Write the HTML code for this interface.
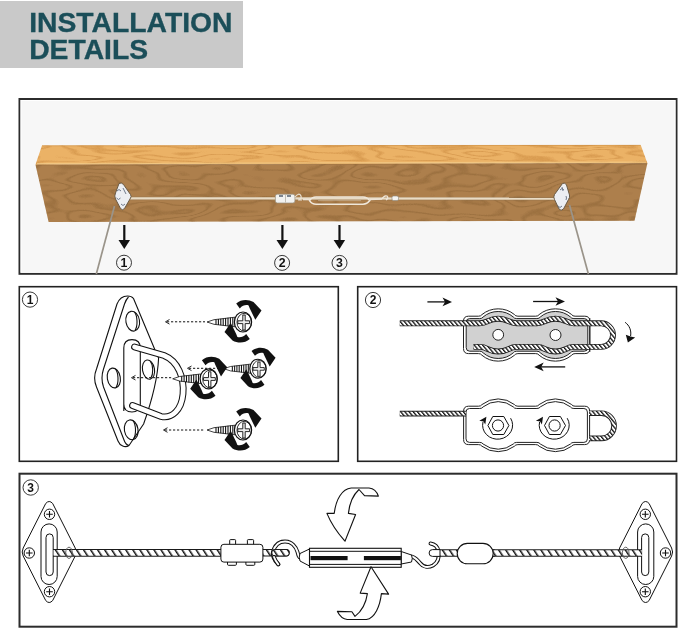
<!DOCTYPE html>
<html><head><meta charset="utf-8">
<style>
html,body{margin:0;padding:0;background:#fff;}
body{width:679px;height:629px;position:relative;overflow:hidden;font-family:"Liberation Sans",sans-serif;}
.hdr{position:absolute;left:0;top:1px;width:243px;height:67px;background:#c9c9c9;will-change:transform;}
.hdr div{position:absolute;left:29.2px;top:7.9px;font-weight:bold;font-size:28.3px;line-height:27.6px;color:#1b4e59;letter-spacing:0px;-webkit-text-stroke:0.35px #1b4e59;}
svg{position:absolute;left:0;top:0;will-change:transform;}
</style></head><body>
<div class="hdr"><div>INSTALLATION<br>DETAILS</div></div>
<svg width="679" height="629" viewBox="0 0 679 629" font-family="Liberation Sans, sans-serif">
<defs>
  <linearGradient id="topg" x1="0" y1="0" x2="0" y2="1">
    <stop offset="0" stop-color="#d99c4f"/>
    <stop offset="0.5" stop-color="#e9ae5e"/>
    <stop offset="1" stop-color="#dda255"/>
  </linearGradient>
  <linearGradient id="frontg" x1="0" y1="0" x2="0" y2="1">
    <stop offset="0" stop-color="#a97942"/>
    <stop offset="0.45" stop-color="#b3834b"/>
    <stop offset="1" stop-color="#b08048"/>
  </linearGradient>
  <pattern id="hatch" width="3.2" height="3.2" patternUnits="userSpaceOnUse" patternTransform="rotate(-40)">
    <rect width="3.2" height="3.2" fill="#fff"/>
    <rect width="1.3" height="3.2" fill="#111"/>
  </pattern>
  <pattern id="hatch3" width="5.9" height="6" patternUnits="userSpaceOnUse" patternTransform="rotate(-33)">
    <rect width="5.9" height="6" fill="#fff"/>
    <rect width="1.5" height="6" fill="#111"/>
  </pattern>
<filter id="rings" x="0" y="0" width="679" height="629" filterUnits="userSpaceOnUse" color-interpolation-filters="sRGB">
  <feTurbulence type="fractalNoise" baseFrequency="0.016 0.055" numOctaves="2" seed="11" result="n"/>
  <feComponentTransfer in="n" result="r">
    <feFuncR type="table" tableValues="1 0.2 1 1 0.2 1 1 0.2 1 1 0.2 1 1 0.2 1 1 0.2 1"/>
  </feComponentTransfer>
  <feColorMatrix in="r" type="matrix" values="0 0 0 0 0.52  0 0 0 0 0.37  0 0 0 0 0.19  -0.7 0 0 0 0.55" result="lines"/>
  <feComposite in="lines" in2="SourceGraphic" operator="in" result="lc"/>
  <feMerge><feMergeNode in="SourceGraphic"/><feMergeNode in="lc"/></feMerge>
</filter>
<filter id="rings2" x="0" y="0" width="679" height="629" filterUnits="userSpaceOnUse" color-interpolation-filters="sRGB">
  <feTurbulence type="fractalNoise" baseFrequency="0.012 0.08" numOctaves="2" seed="5" result="n"/>
  <feComponentTransfer in="n" result="r">
    <feFuncR type="table" tableValues="1 0.2 1 1 0.2 1 1 0.2 1 1 0.2 1 1 0.2 1 1 0.2 1"/>
  </feComponentTransfer>
  <feColorMatrix in="r" type="matrix" values="0 0 0 0 0.76  0 0 0 0 0.50  0 0 0 0 0.21  -0.75 0 0 0 0.58" result="lines"/>
  <feComposite in="lines" in2="SourceGraphic" operator="in" result="lc"/>
  <feMerge><feMergeNode in="SourceGraphic"/><feMergeNode in="lc"/></feMerge>
</filter>
</defs>

<!-- ================= TOP PANEL ================= -->
<rect x="19.5" y="99" width="657" height="174.8" fill="#f7f7f7" stroke="#2c2c2c" stroke-width="2"/>
<rect x="21" y="100.5" width="654" height="171.8" fill="none" stroke="#fff" stroke-width="1"/>
<!-- ropes down -->
<!-- beam -->
<g filter="url(#rings2)">
<polygon points="42,145.5 640.7,145 647.4,163.2 35.5,164.8" fill="#ebb266"/>
</g>
<g filter="url(#rings)">
<polygon points="35.5,164.8 647.4,163.2 634.5,220.8 48.6,222" fill="#ad7f4c"/>
</g>
<line x1="37" y1="163.6" x2="646" y2="162.2" stroke="#f3cd8c" stroke-width="1.3" opacity="0.75"/>
<line x1="36" y1="165" x2="647" y2="163.4" stroke="#8e6333" stroke-width="0.8" opacity="0.45"/>
<line x1="42" y1="145.8" x2="640.5" y2="145.3" stroke="#c98a3e" stroke-width="0.9" opacity="0.6"/>
<!-- wire on beam -->
<line x1="127" y1="198.4" x2="556" y2="198.7" stroke="#8a7050" stroke-width="3.6" opacity="0.45"/>
<line x1="127" y1="198.3" x2="556" y2="198.6" stroke="#e9dcc6" stroke-width="2.3"/>
<!-- diagonal ropes -->
<line x1="114.5" y1="206" x2="96.3" y2="274" stroke="#9a948a" stroke-width="1.7"/>
<line x1="569.5" y1="205" x2="588.4" y2="274" stroke="#9a948a" stroke-width="1.7"/>
<!-- plates -->
<g stroke-linejoin="round">
  <path d="M119,183.5 Q121.5,182 123.5,184.5 L130.5,194.5 Q132,196.5 130,199 L124.5,208.5 Q122.5,211 120.5,208.5 L115.5,199 Q114,196 115.5,193 Z" fill="#eceef2" stroke="#6a5a45" stroke-width="1"/>
  <path d="M117,191 q2,-3 4,0 M116.5,198 q2,3 4,0 M121,204 q2,3 4,0 M123,188 l3,6" fill="none" stroke="#6f7a8c" stroke-width="1"/>
  <path d="M562.5,183.5 Q565,182 566.5,185 L569.5,195 Q570,197.5 568.5,199.5 L563.5,209 Q561,211.5 559,209 L554.5,199.5 Q553,197 554.5,194.5 Z" fill="#eceef2" stroke="#6a5a45" stroke-width="1"/>
  <path d="M560,190 q2,-3 4,0 M562,187 l1,4 M558,206 q2,3 4,0 M566,196 q1,2 0,4" fill="none" stroke="#6f7a8c" stroke-width="1"/>
</g>
<!-- clamp, turnbuckle, hook on beam -->
<g>
  <rect x="275.4" y="194.2" width="19.5" height="8.8" rx="2" fill="#f2f2f0" stroke="#9a9180" stroke-width="0.7"/>
  <path d="M279,196 h4 M287,196 h4" stroke="#55606e" stroke-width="1.6"/>
  <line x1="285.5" y1="194.5" x2="285.5" y2="202.5" stroke="#b5b0a6" stroke-width="0.8"/>
  <path d="M295,197 q4,-5 6,-1 q1,3 -3,4 M298,200 l4,0" fill="none" stroke="#e9e1d3" stroke-width="1.2"/>
  <path d="M303,199.5 L310,199.5" stroke="#ece3d6" stroke-width="1.6"/>
  <path d="M309.5,200.6 Q312,197 316,197 L363,197 Q367,197 369.8,200.6 Q367,204.2 363,204.2 L316,204.2 Q312,204.2 309.5,200.6 Z" fill="none" stroke="#efe7da" stroke-width="1.6"/>
  <line x1="318" y1="200.6" x2="361" y2="200.6" stroke="#d2c2a8" stroke-width="0.8" opacity="0.7"/>
  <path d="M370,199.5 L382,199" stroke="#ece3d6" stroke-width="1.4"/>
  <path d="M382,199 q2,-4 5,-3 q2,2 -1,4" fill="none" stroke="#efe7da" stroke-width="1.2"/>
  <rect x="392" y="196" width="6.5" height="4.6" rx="1.5" fill="#f4f4f2" stroke="#8a8478" stroke-width="0.6"/>
</g>
<!-- arrows & numbers -->
<g fill="#111">
  <rect x="123.2" y="225" width="2.2" height="16"/>
  <polygon points="118.5,240 130,240 124.3,249"/>
  <rect x="281.3" y="225" width="2.2" height="16"/>
  <polygon points="276.5,240 288,240 282.4,249"/>
  <rect x="338.4" y="225" width="2.2" height="16"/>
  <polygon points="333.6,240 345.1,240 339.5,249"/>
</g>
<g fill="none" stroke="#222" stroke-width="0.9">
  <circle cx="124" cy="262.7" r="7.5"/>
  <circle cx="282.1" cy="262.9" r="7.5"/>
  <circle cx="339.5" cy="262.9" r="7.5"/>
</g>
<g font-weight="bold" font-size="12.3" fill="#111" text-anchor="middle">
  <text x="124" y="267.3">1</text>
  <text x="282.1" y="267.4">2</text>
  <text x="339.5" y="267.4">3</text>
</g>

<!-- ================= PANEL 1 ================= -->
<rect x="19.3" y="286.7" width="319" height="174.6" fill="#fff" stroke="#222" stroke-width="1.6"/>
<circle cx="30" cy="299.6" r="7.6" fill="none" stroke="#222" stroke-width="0.9"/>
<text x="30" y="304" font-weight="bold" font-size="12" fill="#111" text-anchor="middle">1</text>
<!-- panel1 drawing -->
<g fill="none" stroke="#111" stroke-width="1.1" stroke-linejoin="round">
  <!-- plate silhouette -->
  <path d="M127.5,296 C123,296 119,299 117,304 L96.5,369 C94,375 94,381 96.5,387 L118,441 C120,446 125,448 129,445.5 L143.6,424 C155,392 158,372 158.6,358 L155,350 L133.5,298.5 C132,296.5 130,296 127.5,296 Z" fill="#fff"/>
  <!-- inner front-face edge -->
  <path d="M128.5,297 C126.5,299 125.5,301 124.5,304 L103.5,369 C101.5,375 101.5,381 103.5,387 L124,440 C125,443 127,445 129,445.5"/>
  <!-- holes -->
  <ellipse cx="132.7" cy="321.2" rx="6.8" ry="10" transform="rotate(-10 132.7 321.2)"/>
  <path d="M134.5,312 C137.5,316 138,326 135,330.5"/>
  <ellipse cx="113.8" cy="378" rx="6.5" ry="10" transform="rotate(-10 113.8 378)"/>
  <path d="M115.5,369 C118.5,373 119,383 116,387.5"/>
  <ellipse cx="131.2" cy="429.8" rx="6.8" ry="10" transform="rotate(-10 131.2 429.8)"/>
  <path d="M133,420.5 C136,424.5 136.5,434.5 133.5,439"/>
  <!-- D-ring base -->
  <path d="M123.8,411 L123.8,348 C123.8,342 127.5,339.6 132,339.6 C136.5,339.6 140.3,342 140.3,348 L140.3,404 C140.3,409.5 136.5,412 132,412 C127.5,412 123.8,409.5 123.8,404" fill="#fff"/>
  <!-- middle hole -->
  <ellipse cx="148.5" cy="369.6" rx="6" ry="9.7" transform="rotate(-10 148.5 369.6)" fill="#fff"/>
  <path d="M150.2,361 C153.2,365 153.7,374 150.7,378.5"/>
  <!-- plate edge inside D -->
  
</g>
<!-- D ring tube -->
<path d="M134.5,347 L164,355.5 C178,361 184.5,378 183,394 C181.5,410 172,419 161,416.5 L132.5,405.5" fill="none" stroke="#111" stroke-width="6.8" stroke-linecap="round"/>
<path d="M134.5,347 L164,355.5 C178,361 184.5,378 183,394 C181.5,410 172,419 161,416.5 L132.5,405.5" fill="none" stroke="#fff" stroke-width="4.7" stroke-linecap="round"/>
<defs>
<g id="screw">
  <polygon points="-36,0 -29,-2.3 -8,-4.8 -8,4.8 -29,2.3" fill="#fff" stroke="#111" stroke-width="0.8"/>
  <g stroke="#111" stroke-width="1.1">
    <line x1="-27" y1="-2.6" x2="-27" y2="2.6"/><line x1="-24.6" y1="-3" x2="-24.6" y2="3"/>
    <line x1="-22.2" y1="-3.3" x2="-22.2" y2="3.3"/><line x1="-19.8" y1="-3.6" x2="-19.8" y2="3.6"/>
    <line x1="-17.4" y1="-3.9" x2="-17.4" y2="3.9"/><line x1="-15" y1="-4.2" x2="-15" y2="4.2"/>
    <line x1="-12.6" y1="-4.4" x2="-12.6" y2="4.4"/><line x1="-10.2" y1="-4.6" x2="-10.2" y2="4.6"/>
  </g>
  <path id="rarr" d="M-6.8,-18.6 C-2,-22.8 5,-23.2 10.5,-20 L18.5,-11.5 L12.3,-2.3 L6.8,-13.6 L5.6,-16.6 C3,-17.3 -0.5,-16.8 -3.2,-13.6 Z" fill="#111"/>
  <use href="#rarr" transform="rotate(180 0 -0.8)"/>
  <ellipse cx="0" cy="0" rx="8.6" ry="10" fill="#fff" stroke="#111" stroke-width="1.2"/>
  <ellipse cx="1.2" cy="0.2" rx="7.2" ry="8.8" fill="none" stroke="#111" stroke-width="0.9"/>
  <path d="M-0.2,-7 L2.2,-7 L2.2,-1.2 L6.6,-1.2 L6.6,1.6 L2.2,1.6 L2.2,8 L-0.2,8 L-0.2,1.6 L-5.2,1.6 L-5.2,-1.2 L-0.2,-1.2 Z" fill="#eee" stroke="#111" stroke-width="0.9"/>
</g>
</defs>
<g fill="none" stroke="#111" stroke-width="1" stroke-dasharray="2.2 1.8">
  <line x1="167" y1="321.8" x2="205" y2="321.8"/>
  <line x1="133" y1="377.7" x2="172" y2="377.7"/>
  <line x1="189" y1="368.3" x2="224" y2="368.3"/>
  <line x1="165" y1="430" x2="205" y2="430"/>
</g>
<g fill="none" stroke="#111" stroke-width="0.9">
  <path d="M169.5,319.5 L165.5,321.8 L169.5,324.1"/>
  <path d="M135.5,375.4 L131.5,377.7 L135.5,380"/>
  <path d="M191.5,366 L187.5,368.3 L191.5,370.6"/>
  <path d="M167.5,427.7 L163.5,430 L167.5,432.3"/>
</g>
<use href="#screw" transform="translate(258,368.7) scale(0.95)"/>
<use href="#screw" transform="translate(208.7,378.8)"/>
<use href="#screw" transform="translate(243,322)"/>
<use href="#screw" transform="translate(243,430)"/>


<!-- ================= PANEL 2 ================= -->
<rect x="357.7" y="286.7" width="318.8" height="174.6" fill="#fff" stroke="#222" stroke-width="1.6"/>
<circle cx="373" cy="300" r="7.6" fill="none" stroke="#222" stroke-width="0.9"/>
<text x="373" y="304.4" font-weight="bold" font-size="12" fill="#111" text-anchor="middle">2</text>
<!-- panel 2 drawing -->
<g fill="#111">
  <line x1="427.4" y1="301.9" x2="445" y2="301.9" stroke="#111" stroke-width="1.3"/>
  <path d="M452,301.9 L442.5,297.6 L445,301.9 L442.5,306.2 Z"/>
  <line x1="533.1" y1="301.5" x2="558" y2="301.5" stroke="#111" stroke-width="1.3"/>
  <path d="M565,301.5 L555.5,297.2 L558,301.5 L555.5,305.8 Z"/>
  <line x1="565.2" y1="366.9" x2="541" y2="366.9" stroke="#111" stroke-width="1.3"/>
  <path d="M534.2,366.9 L543.7,362.6 L541.2,366.9 L543.7,371.2 Z"/>
  <path d="M625.1,322.3 C629.5,325.5 631.5,330.5 630.6,336" fill="none" stroke="#111" stroke-width="1"/>
  <path d="M627.9,342.5 L625.8,334.8 L630.6,336.6 L635.2,337.5 Z"/>
</g>
<path d="M463.5,321.2 Q463.5,316.2 468.5,316.2 L478.50,316.2 Q481.00,316.2 481.90,314.60 A25.92,25.92 0 0 1 514.50,314.60 Q515.40,316.2 517.90,316.2 L535.70,316.2 Q538.20,316.2 539.10,314.60 A25.92,25.92 0 0 1 571.70,314.60 Q572.60,316.2 575.10,316.2 L584.8,316.2 Q589.8,316.2 589.8,321.2 L589.8,348.6 Q589.8,353.6 584.8,353.6 L575.10,353.6 Q572.60,353.6 571.70,355.20 A25.38,25.38 0 0 1 539.10,355.20 Q538.20,353.6 535.70,353.6 L517.90,353.6 Q515.40,353.6 514.50,355.20 A25.38,25.38 0 0 1 481.90,355.20 Q481.00,353.6 478.50,353.6 L468.5,353.6 Q463.5,353.6 463.5,348.6 Z" fill="#fff" stroke="#222" stroke-width="1"/>
<path d="M466.2,322.1 Q466.2,318.6 469.7,318.6 L479.70,318.6 Q482.20,318.6 483.10,317.00 A23.43,23.43 0 0 1 513.30,317.00 Q514.20,318.6 516.70,318.6 L536.90,318.6 Q539.40,318.6 540.30,317.00 A23.43,23.43 0 0 1 570.50,317.00 Q571.40,318.6 573.90,318.6 L584.3,318.6 Q587.8,318.6 587.8,322.1 L587.8,347.7 Q587.8,351.2 584.3,351.2 L573.90,351.2 Q571.40,351.2 570.50,352.80 A22.94,22.94 0 0 1 540.30,352.80 Q539.40,351.2 536.90,351.2 L516.70,351.2 Q514.20,351.2 513.30,352.80 A22.94,22.94 0 0 1 483.10,352.80 Q482.20,351.2 479.70,351.2 L469.7,351.2 Q466.2,351.2 466.2,347.7 Z" fill="#d1d1d1" stroke="#222" stroke-width="1"/>
<line x1="589.8" y1="318" x2="589.8" y2="352" stroke="#222" stroke-width="1"/>
<circle cx="498.2" cy="334.8" r="5.4" fill="#fff" stroke="#222" stroke-width="1"/>
<circle cx="555.5" cy="335" r="5.5" fill="#fff" stroke="#222" stroke-width="1"/>
<path d="M399.8,323.3 L479.7,323.3 C488.025,323.3 488.025,318.7 498.2,318.7 C508.375,318.7 508.375,323.3 516.7,323.3 L536.9,323.3 C545.225,323.3 545.225,318.7 555.4,318.7 C565.5749999999999,318.7 565.5749999999999,323.3 573.9,323.3 L601.2,323.3 A11.8,11.8 0 0 1 601.2,346.9 L573.9,346.9 C565.5749999999999,346.9 565.5749999999999,351.5 555.4,351.5 C545.225,351.5 545.225,346.9 536.9,346.9 L516.7,346.9 C508.375,346.9 508.375,351.5 498.2,351.5 C488.025,351.5 488.025,346.9 479.7,346.9 L473.5,346.9" fill="none" stroke="#222" stroke-width="5.9" stroke-linejoin="round"/>
<path d="M399.8,323.3 L479.7,323.3 C488.025,323.3 488.025,318.7 498.2,318.7 C508.375,318.7 508.375,323.3 516.7,323.3 L536.9,323.3 C545.225,323.3 545.225,318.7 555.4,318.7 C565.5749999999999,318.7 565.5749999999999,323.3 573.9,323.3 L601.2,323.3 A11.8,11.8 0 0 1 601.2,346.9 L573.9,346.9 C565.5749999999999,346.9 565.5749999999999,351.5 555.4,351.5 C545.225,351.5 545.225,346.9 536.9,346.9 L516.7,346.9 C508.375,346.9 508.375,351.5 498.2,351.5 C488.025,351.5 488.025,346.9 479.7,346.9 L473.5,346.9" fill="none" stroke="url(#hatch)" stroke-width="4.2" stroke-linejoin="round"/>

<path d="M463.6,411.2 Q463.6,406.2 468.6,406.2 L478.50,406.2 Q481.00,406.2 481.90,404.60 A26.20,26.20 0 0 1 514.50,404.60 Q515.40,406.2 517.90,406.2 L535.70,406.2 Q538.20,406.2 539.10,404.60 A26.20,26.20 0 0 1 571.70,404.60 Q572.60,406.2 575.10,406.2 L584.6,406.2 Q589.6,406.2 589.6,411.2 L589.6,439.6 Q589.6,444.6 584.6,444.6 L575.10,444.6 Q572.60,444.6 571.70,446.20 A27.13,27.13 0 0 1 539.10,446.20 Q538.20,444.6 535.70,444.6 L517.90,444.6 Q515.40,444.6 514.50,446.20 A27.13,27.13 0 0 1 481.90,446.20 Q481.00,444.6 478.50,444.6 L468.6,444.6 Q463.6,444.6 463.6,439.6 Z" fill="#fff" stroke="#222" stroke-width="1"/>
<path d="M466.0,412.0 Q466.0,408.5 469.5,408.5 L479.70,408.5 Q482.20,408.5 483.10,406.90 A24.24,24.24 0 0 1 513.30,406.90 Q514.20,408.5 516.70,408.5 L536.90,408.5 Q539.40,408.5 540.30,406.90 A24.24,24.24 0 0 1 570.50,406.90 Q571.40,408.5 573.90,408.5 L583.9,408.5 Q587.4,408.5 587.4,412.0 L587.4,438.9 Q587.4,442.4 583.9,442.4 L573.90,442.4 Q571.40,442.4 570.50,444.00 A24.53,24.53 0 0 1 540.30,444.00 Q539.40,442.4 536.90,442.4 L516.70,442.4 Q514.20,442.4 513.30,444.00 A24.53,24.53 0 0 1 483.10,444.00 Q482.20,442.4 479.70,442.4 L469.5,442.4 Q466.0,442.4 466.0,438.9 Z" fill="#fff" stroke="#222" stroke-width="1"/>
<path d="M399.8,413.6 L466,413.6" fill="none" stroke="#222" stroke-width="5.6"/>
<path d="M399.8,413.6 L466,413.6" fill="none" stroke="url(#hatch)" stroke-width="3.8"/>
<path d="M589,413.2 L601.5,413.2 A12.6,12.6 0 0 1 601.5,438.4 L589,438.4" fill="none" stroke="#222" stroke-width="5.6"/>
<path d="M589,413.2 L601.5,413.2 A12.6,12.6 0 0 1 601.5,438.4 L589,438.4" fill="none" stroke="url(#hatch)" stroke-width="3.8"/>
<g fill="none" stroke="#111" stroke-width="1">
  <polygon points="487.9,425.5 492.8,416.5 503.8,416.5 508.9,425.5 503.8,434.5 492.8,434.5"/>
  <circle cx="498" cy="425.5" r="5.6"/>
  <path d="M510.6,418.2 A15,14 0 1 1 483,422"/>
  <polygon points="544.5,425.5 549.4,416.5 560.4,416.5 565.5,425.5 560.4,434.5 549.4,434.5"/>
  <circle cx="554.6" cy="425.5" r="5.6"/>
  <path d="M567.2,418.2 A15,14 0 1 1 539.6,422"/>
</g>
<g fill="#111">
  <path d="M479.3,420.8 L486.4,416.8 L485.3,424.5 L483.5,421.5 Z"/>
  <path d="M535.9,420.8 L543,416.8 L541.9,424.5 L540.1,421.5 Z"/>
</g>


<!-- ================= PANEL 3 ================= -->
<rect x="19.5" y="473.7" width="657" height="153" fill="#fff" stroke="#2c2c2c" stroke-width="2"/>
<circle cx="30.7" cy="487.5" r="7.7" fill="none" stroke="#222" stroke-width="0.9"/>
<text x="30.7" y="491.9" font-weight="bold" font-size="12" fill="#111" text-anchor="middle">3</text>
<!-- panel 3 drawing -->
<g transform="translate(49.2,552)"><path d="M-3.5,-48.5 Q0,-52.5 3.5,-48.5 L26,-4 Q28,0 26,4 L3.5,48.5 Q0,52.5 -3.5,48.5 L-26,4 Q-28,0 -26,-4 Z" fill="#fff" stroke="#111" stroke-width="1"/><circle cx="0.3" cy="-37.7" r="5.2" fill="#fff" stroke="#111" stroke-width="1"/><path d="M-3.0,-37.7 L3.5999999999999996,-37.7 M0.3,-41.0 L0.3,-34.400000000000006" stroke="#111" stroke-width="1.1"/><circle cx="-19.9" cy="1" r="5.2" fill="#fff" stroke="#111" stroke-width="1"/><path d="M-23.2,1 L-16.599999999999998,1 M-19.9,-2.3 L-19.9,4.3" stroke="#111" stroke-width="1.1"/><circle cx="0.3" cy="39.7" r="5.2" fill="#fff" stroke="#111" stroke-width="1"/><path d="M-3.0,39.7 L3.5999999999999996,39.7 M0.3,36.400000000000006 L0.3,43.0" stroke="#111" stroke-width="1.1"/><rect x="-8.2" y="-28.1" width="16.2" height="60.6" rx="8.1" fill="#fff" stroke="#111" stroke-width="1"/><rect x="-3.2" y="-18.1" width="7.2" height="41.7" rx="3.6" fill="#fff" stroke="#111" stroke-width="1"/></g>
<g transform="translate(645.6,552) scale(-1,1)"><path d="M-3.5,-48.5 Q0,-52.5 3.5,-48.5 L26,-4 Q28,0 26,4 L3.5,48.5 Q0,52.5 -3.5,48.5 L-26,4 Q-28,0 -26,-4 Z" fill="#fff" stroke="#111" stroke-width="1"/><circle cx="0.3" cy="-37.7" r="5.2" fill="#fff" stroke="#111" stroke-width="1"/><path d="M-3.0,-37.7 L3.5999999999999996,-37.7 M0.3,-41.0 L0.3,-34.400000000000006" stroke="#111" stroke-width="1.1"/><circle cx="-19.9" cy="1" r="5.2" fill="#fff" stroke="#111" stroke-width="1"/><path d="M-23.2,1 L-16.599999999999998,1 M-19.9,-2.3 L-19.9,4.3" stroke="#111" stroke-width="1.1"/><circle cx="0.3" cy="39.7" r="5.2" fill="#fff" stroke="#111" stroke-width="1"/><path d="M-3.0,39.7 L3.5999999999999996,39.7 M0.3,36.400000000000006 L0.3,43.0" stroke="#111" stroke-width="1.1"/><rect x="-8.2" y="-28.1" width="16.2" height="60.6" rx="8.1" fill="#fff" stroke="#111" stroke-width="1"/><rect x="-3.2" y="-18.1" width="7.2" height="41.7" rx="3.6" fill="#fff" stroke="#111" stroke-width="1"/></g>
<!-- rope left -->
<path d="M53,552.9 L222,552.9" stroke="#1a1a1a" stroke-width="7.6"/>
<path d="M53.5,552.9 L222,552.9" stroke="url(#hatch3)" stroke-width="5.6"/>
<ellipse cx="69" cy="552.8" rx="3.3" ry="5.6" fill="none" stroke="#555" stroke-width="0.9"/>
<path d="M262,552.8 L286,552.8" stroke="#1a1a1a" stroke-width="7.4" stroke-linecap="round"/>
<path d="M262,552.8 L286,552.8" stroke="url(#hatch3)" stroke-width="5.4" stroke-linecap="round"/>
<!-- clamp -->
<g fill="#fff" stroke="#111" stroke-width="1">
  <rect x="229.7" y="539.6" width="5.9" height="6" rx="0.8"/>
  <rect x="247.4" y="539.6" width="6.2" height="6" rx="0.8"/>
  <rect x="227.5" y="560" width="8.9" height="5.3" rx="1"/>
  <rect x="245.9" y="560" width="8.9" height="5.3" rx="1"/>
  <rect x="220.9" y="544.3" width="42" height="17.8" rx="3"/>
</g>
<!-- left hook -->
<path d="M278.3,564.3 C275,561 272,557 273,552 C275,544 280,541.5 285,541.5 C292,541.5 296,547 297.5,552 C298.5,556 299,558 301,557.5 L304,556" fill="none" stroke="#111" stroke-width="3.9" stroke-linecap="round"/>
<path d="M278.3,564.3 C275,561 272,557 273,552 C275,544 280,541.5 285,541.5 C292,541.5 296,547 297.5,552 C298.5,556 299,558 301,557.5 L304,556" fill="none" stroke="#fff" stroke-width="1.9" stroke-linecap="round"/>
<path d="M275,552.8 L286,552.8" stroke="#1a1a1a" stroke-width="7.4" stroke-linecap="round"/>
<path d="M275,552.8 L286,552.8" stroke="url(#hatch3)" stroke-width="5.4" stroke-linecap="round"/>
<path d="M278.3,564.3 C276.5,562 275,560 274,557" fill="none" stroke="#111" stroke-width="3.9" stroke-linecap="round"/>
<path d="M278.3,564.3 C276.5,562 275,560 274,557" fill="none" stroke="#fff" stroke-width="1.9" stroke-linecap="round"/>
<!-- right hook -->
<path d="M411.8,556.5 C415,557.5 417,559 420,563 C423,567 428,568 433,565.5 C438,562.5 439.5,557 438.5,551 C437.5,546.5 434,544 430.5,543.5" fill="none" stroke="#111" stroke-width="3.9" stroke-linecap="round"/>
<path d="M411.8,556.5 C415,557.5 417,559 420,563 C423,567 428,568 433,565.5 C438,562.5 439.5,557 438.5,551 C437.5,546.5 434,544 430.5,543.5" fill="none" stroke="#fff" stroke-width="1.9" stroke-linecap="round"/>
<!-- turnbuckle -->
<path d="M300,553.5 L309.5,549 L309.5,566 L300,561 Q298.5,557 300,553.5 Z" fill="#fff" stroke="#111" stroke-width="1"/>
<path d="M411.5,555 L401.2,551.5 L401.2,564 L411.5,562 Q413,558.5 411.5,555 Z" fill="#fff" stroke="#111" stroke-width="1"/>
<rect x="309.5" y="548.3" width="91.7" height="19" fill="#fff" stroke="#111" stroke-width="1.1"/>
<line x1="309.5" y1="551.3" x2="401.2" y2="551.3" stroke="#111" stroke-width="1"/>
<line x1="309.5" y1="564.4" x2="401.2" y2="564.4" stroke="#111" stroke-width="1"/>
<rect x="310.5" y="556" width="37.1" height="4.2" fill="#111"/>
<rect x="363.9" y="556" width="37" height="4.2" fill="#111"/>
<!-- right rope eye + ferrule -->
<path d="M436,553 L493,553" stroke="#1a1a1a" stroke-width="7.4" stroke-linecap="round"/>
<path d="M436,553 L493,553" stroke="url(#hatch3)" stroke-width="5.4" stroke-linecap="round"/>
<path d="M432.5,549.6 L440,549.6 L440,556.4 L432.5,556.4 A3.4,3.4 0 0 1 432.5,549.6 Z" fill="#fff" stroke="#111" stroke-width="1"/>
<rect x="457.2" y="543.4" width="36" height="20.4" rx="10.2" fill="#fff" stroke="#111" stroke-width="1.1"/>
<path d="M493,553 L642,553" stroke="#1a1a1a" stroke-width="7.4"/>
<path d="M493.5,553 L642,553" stroke="url(#hatch3)" stroke-width="5.4"/>
<ellipse cx="625.7" cy="552.8" rx="3.3" ry="5.6" fill="none" stroke="#555" stroke-width="0.9"/>
<!-- rotation arrows -->
<path d="M345,541.2 Q333,528 326.9,513.4 L334.2,513.4 C336,499 342,489 351.2,488 L369,488 C373.5,488.5 377,492 378.4,496.1 L364.5,495.6 L359,489.5 C353,495 349.5,503 348.4,513.4 L355.6,514.5 Z" fill="#fff" stroke="#111" stroke-width="1.1" stroke-linejoin="round"/>
<path d="M371,566.7 Q366,579 360.2,593.1 L367.4,593.6 C366,603 362,611 355,616.4 L351.9,611.7 L337.4,611.4 C339.5,615.5 343,619 347.2,619.5 L366.4,619.5 C375,618 380,606 381.4,593.6 L388.6,594.1 Z" fill="#fff" stroke="#111" stroke-width="1.1" stroke-linejoin="round"/>

</svg>
</body></html>
